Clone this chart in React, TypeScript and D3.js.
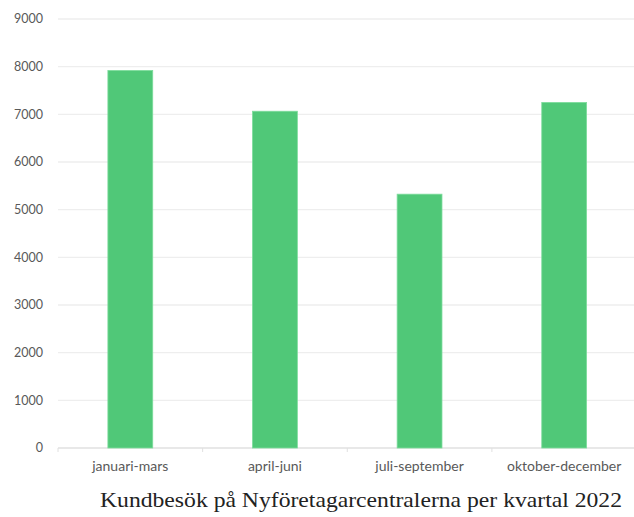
import React, { useEffect, useRef } from "react";
import * as d3 from "d3";

const categories = ["januari-mars", "april-juni", "juli-september", "oktober-december"];
const visits = [7920, 7065, 5325, 7250];
const yTicks = [0, 1000, 2000, 3000, 4000, 5000, 6000, 7000, 8000, 9000];
const title = "Kundbesök på Nyföretagarcentralerna per kvartal 2022";

const width = 634;
const height = 517;

export default function App() {
  const ref = useRef<SVGSVGElement>(null);

  useEffect(() => {
    const svg = d3.select(ref.current);
    svg.selectAll("*").remove();

    const left = 58;
    const right = 636.5;
    const top = 19;
    const bottom = 448;

    const x = d3.scaleBand().domain(categories).range([left, right]).paddingInner(0.69).paddingOuter(0.345);
    const y = d3.scaleLinear().domain([0, 9000]).range([bottom, top]);

    // grid lines
    svg
      .append("g")
      .selectAll("line")
      .data(yTicks)
      .join("line")
      .attr("x1", left)
      .attr("x2", right)
      .attr("y1", (d) => y(d))
      .attr("y2", (d) => y(d))
      .attr("stroke", (d) => (d === 0 ? "#e0e0e0" : "#eeeeee"))
      .attr("stroke-width", 1.3);

    // y labels
    svg
      .append("g")
      .selectAll("text")
      .data(yTicks)
      .join("text")
      .attr("x", 43)
      .attr("y", (d) => y(d))
      .attr("dy", "0.35em")
      .attr("text-anchor", "end")
      .attr("font-family", "Lato, sans-serif")
      .attr("font-size", 12.5)
      .attr("fill", "#595959")
      .text((d) => d);

    // small ticks between categories
    const step = x.step();
    svg
      .append("g")
      .selectAll("line")
      .data(d3.range(5))
      .join("line")
      .attr("x1", (i) => left + i * step)
      .attr("x2", (i) => left + i * step)
      .attr("y1", bottom)
      .attr("y2", bottom + 4)
      .attr("stroke", "#e0e0e0");

    // bars
    svg
      .append("g")
      .selectAll("rect")
      .data(visits)
      .join("rect")
      .attr("x", (d, i) => x(categories[i])!)
      .attr("y", (d) => y(d))
      .attr("width", x.bandwidth())
      .attr("height", (d) => bottom - y(d))
      .attr("fill", "#50c878")
      .attr("stroke", "#7ddc9c")
      .attr("stroke-width", 0.8);

    // x labels
    svg
      .append("g")
      .selectAll("text")
      .data(categories)
      .join("text")
      .attr("x", (d) => x(d)! + x.bandwidth() / 2)
      .attr("y", 466)
      .attr("dy", "0.35em")
      .attr("text-anchor", "middle")
      .attr("font-family", "Lato, sans-serif")
      .attr("font-size", 14)
      .attr("fill", "#595959")
      .text((d) => d);

    svg
      .append("text")
      .attr("x", 622)
      .attr("y", 507)
      .attr("text-anchor", "end")
      .attr("font-family", "'Liberation Serif', serif")
      .attr("font-size", 22)
      .attr("textLength", 522)
      .attr("lengthAdjust", "spacingAndGlyphs")
      .attr("fill", "#222")
      .text(title);
  }, []);

  return (
    <svg
      ref={ref}
      width={width}
      height={height}
      style={{ position: "absolute", left: 0, top: 0, background: "#fff" }}
    />
  );
}
